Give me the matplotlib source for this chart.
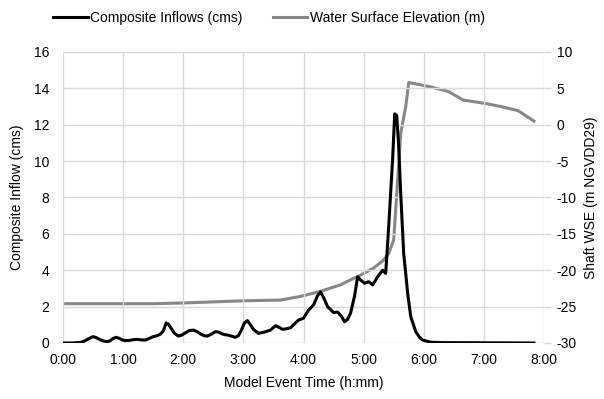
import matplotlib
matplotlib.use("Agg")
import matplotlib.pyplot as plt

plt.rcParams['font.family'] = ['Liberation Sans', 'DejaVu Sans']
plt.rcParams['axes.unicode_minus'] = False

# time in minutes
inflow_t = [0, 10, 18, 22, 26, 30, 33, 37, 41, 44, 47, 50, 53, 56, 59, 62, 66, 70, 74, 78,
            82, 86, 90, 94, 97, 100, 103, 105, 108, 111, 115, 118, 122, 126, 130, 134,
            137, 141, 144, 148, 152, 155, 158, 161, 164, 168, 172, 175, 178, 181, 184,
            187, 190, 195, 201, 207, 212, 216, 219, 223, 227, 231, 235, 240, 245, 250,
            254, 257, 260, 264, 270, 274, 278, 281, 284, 287, 291, 294, 297, 301, 305,
            309, 314, 319, 322, 325, 329, 331, 333, 335, 337, 340, 344, 347, 352, 356,
            359, 367, 380, 420, 470]
inflow_v = [0.0, 0.0, 0.04, 0.12, 0.25, 0.35, 0.3, 0.18, 0.1, 0.07, 0.12, 0.25, 0.31, 0.26,
            0.17, 0.13, 0.14, 0.18, 0.2, 0.17, 0.16, 0.25, 0.35, 0.4, 0.48, 0.65, 1.1,
            1.05, 0.8, 0.55, 0.38, 0.42, 0.55, 0.68, 0.71, 0.62, 0.5, 0.4, 0.38, 0.48,
            0.62, 0.6, 0.52, 0.46, 0.44, 0.38, 0.31, 0.4, 0.7, 1.1, 1.23, 1.0, 0.75, 0.53,
            0.6, 0.71, 0.95, 0.85, 0.75, 0.78, 0.84, 1.05, 1.26, 1.36, 1.81, 2.09, 2.6,
            2.8, 2.5, 2.0, 1.67, 1.7, 1.45, 1.17, 1.3, 1.65, 2.6, 3.64, 3.46, 3.28, 3.37,
            3.19, 3.64, 4.0, 3.83, 6.39, 10.2, 12.6, 12.5, 10.8, 8.2, 4.9, 2.7, 1.45,
            0.62, 0.3, 0.16, 0.04, 0.02, 0.01, 0.0]

wse_t = [0, 60, 90, 120, 150, 180, 217, 237, 257, 277, 297, 310, 320, 325, 330, 334,
         337, 342, 345, 367, 385, 399, 420, 437, 454, 470]
wse_v = [-24.6, -24.6, -24.6, -24.5, -24.35, -24.2, -24.1, -23.6, -22.9, -22.0, -20.65,
         -19.7, -18.6, -17.7, -15.8, -7.5, -1.2, 2.5, 5.8, 5.2, 4.55, 3.4, 2.96, 2.5,
         1.94, 0.5]

x_ticks = list(range(0, 481, 60))
x_labels = ['0:00', '1:00', '2:00', '3:00', '4:00', '5:00', '6:00', '7:00', '8:00']

fig = plt.figure(figsize=(6.04, 3.99), dpi=100)
ax = fig.add_axes([0.1043, 0.1404, 0.7964, 0.7293])
ax2 = ax.twinx()

grid_c = '#d9d9d9'
ax.set_xlim(0, 480)
ax.set_ylim(0, 16)
ax.set_yticks(range(0, 17, 2))
ax.set_xticks(x_ticks)
ax.set_xticklabels(x_labels)
ax.grid(True, color=grid_c, linewidth=1.0)
ax.set_axisbelow(True)
for s in ax.spines.values():
    s.set_visible(False)
for s in ax2.spines.values():
    s.set_visible(False)
ax.tick_params(axis='x', length=0, labelsize=10, pad=7)
ax.tick_params(axis='y', length=0, labelsize=10, pad=10)

ax2.set_ylim(-30, 10)
ax2.set_yticks(range(-30, 11, 5))
ax2.tick_params(axis='y', length=5, color=grid_c, width=1.0, labelsize=10, pad=4)

l2, = ax2.plot(wse_t, wse_v, color='#878787', linewidth=2.2, label='Water Surface Elevation (m)')
l1, = ax.plot(inflow_t, inflow_v, color='black', linewidth=2.2, label='Composite Inflows (cms)',
              solid_joinstyle='round')
ax.set_zorder(ax2.get_zorder() + 1)
ax.patch.set_visible(False)

ax.set_xlabel('Model Event Time (h:mm)', fontsize=10, labelpad=7)
ax.set_ylabel('Composite Inflow (cms)', fontsize=10, labelpad=7)
ax2.set_ylabel('Shaft WSE (m NGVDD29)', fontsize=10, labelpad=5)

fig.legend(handles=[l1, l2], loc='upper center', bbox_to_anchor=(0.445, 1.005), ncol=2,
           frameon=False, fontsize=10, handlelength=2.5, handletextpad=0.15,
           columnspacing=2.2)

fig.savefig('out.png', dpi=100)
